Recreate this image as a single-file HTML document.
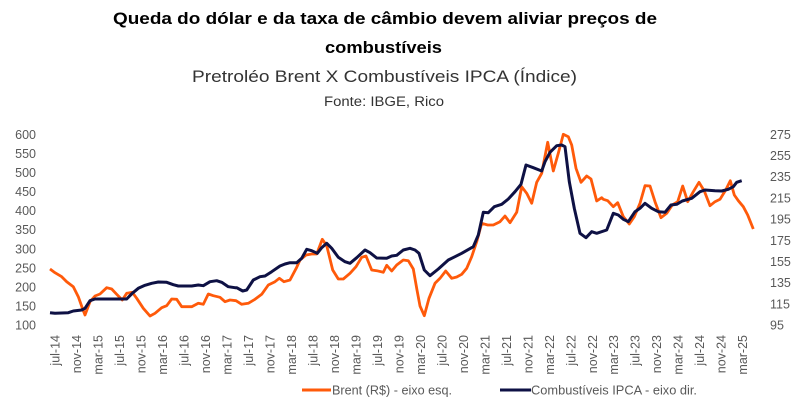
<!DOCTYPE html>
<html><head><meta charset="utf-8"><style>
html,body{margin:0;padding:0;background:#fff;}
svg{display:block;}
text{font-family:"Liberation Sans",sans-serif;}
</style></head><body>
<svg width="803" height="403" viewBox="0 0 803 403" xmlns="http://www.w3.org/2000/svg">
<rect width="803" height="403" fill="#fff"/>
<text x="113" y="24" font-size="16.5" font-weight="bold" fill="#000" textLength="544" lengthAdjust="spacingAndGlyphs">Queda do dólar e da taxa de câmbio devem aliviar preços de</text>
<text x="325" y="53" font-size="16.5" font-weight="bold" fill="#000" textLength="117" lengthAdjust="spacingAndGlyphs">combustíveis</text>
<text x="192" y="82" font-size="16.5" fill="#333" textLength="385" lengthAdjust="spacingAndGlyphs">Pretroléo Brent X Combustíveis IPCA (Índice)</text>
<text x="324" y="106" font-size="13.5" fill="#333" textLength="120" lengthAdjust="spacingAndGlyphs">Fonte: IBGE, Rico</text>

<g font-size="12.5" fill="#595959" text-anchor="end">
<text x="36" y="138.8">600</text>
<text x="36" y="157.9">550</text>
<text x="36" y="177.0">500</text>
<text x="36" y="196.0">450</text>
<text x="36" y="215.1">400</text>
<text x="36" y="234.2">350</text>
<text x="36" y="253.3">300</text>
<text x="36" y="272.4">250</text>
<text x="36" y="291.4">200</text>
<text x="36" y="310.5">150</text>
<text x="36" y="329.5">100</text>
</g>
<g font-size="12.5" fill="#595959" text-anchor="start">
<text x="770" y="138.8">275</text>
<text x="770" y="160.0">255</text>
<text x="770" y="181.2">235</text>
<text x="770" y="202.4">215</text>
<text x="770" y="223.6">195</text>
<text x="770" y="244.8">175</text>
<text x="770" y="266.0">155</text>
<text x="770" y="287.2">135</text>
<text x="770" y="308.3">115</text>
<text x="770" y="329.5">95</text>
</g>

<g font-size="12.5" fill="#595959" text-anchor="end">
<text transform="translate(59.5,335) rotate(-90)">jul-14</text>
<text transform="translate(81.0,335) rotate(-90)">nov-14</text>
<text transform="translate(102.5,335) rotate(-90)">mar-15</text>
<text transform="translate(124.0,335) rotate(-90)">jul-15</text>
<text transform="translate(145.5,335) rotate(-90)">nov-15</text>
<text transform="translate(166.9,335) rotate(-90)">mar-16</text>
<text transform="translate(188.4,335) rotate(-90)">jul-16</text>
<text transform="translate(209.9,335) rotate(-90)">nov-16</text>
<text transform="translate(231.4,335) rotate(-90)">mar-17</text>
<text transform="translate(252.9,335) rotate(-90)">jul-17</text>
<text transform="translate(274.4,335) rotate(-90)">nov-17</text>
<text transform="translate(295.9,335) rotate(-90)">mar-18</text>
<text transform="translate(317.4,335) rotate(-90)">jul-18</text>
<text transform="translate(338.9,335) rotate(-90)">nov-18</text>
<text transform="translate(360.4,335) rotate(-90)">mar-19</text>
<text transform="translate(381.9,335) rotate(-90)">jul-19</text>
<text transform="translate(403.3,335) rotate(-90)">nov-19</text>
<text transform="translate(424.8,335) rotate(-90)">mar-20</text>
<text transform="translate(446.3,335) rotate(-90)">jul-20</text>
<text transform="translate(467.8,335) rotate(-90)">nov-20</text>
<text transform="translate(489.3,335) rotate(-90)">mar-21</text>
<text transform="translate(510.8,335) rotate(-90)">jul-21</text>
<text transform="translate(532.3,335) rotate(-90)">nov-21</text>
<text transform="translate(553.8,335) rotate(-90)">mar-22</text>
<text transform="translate(575.3,335) rotate(-90)">jul-22</text>
<text transform="translate(596.8,335) rotate(-90)">nov-22</text>
<text transform="translate(618.2,335) rotate(-90)">mar-23</text>
<text transform="translate(639.7,335) rotate(-90)">jul-23</text>
<text transform="translate(661.2,335) rotate(-90)">nov-23</text>
<text transform="translate(682.7,335) rotate(-90)">mar-24</text>
<text transform="translate(704.2,335) rotate(-90)">jul-24</text>
<text transform="translate(725.7,335) rotate(-90)">nov-24</text>
<text transform="translate(747.2,335) rotate(-90)">mar-25</text>
</g>

<polyline fill="none" stroke="#FF5A0A" stroke-width="2.8" stroke-linejoin="round" stroke-linecap="butt" points="50,269 55,272.7 61.7,276.7 66.7,281.7 73.3,286.7 78.3,296.7 82.3,308 85,315 90,301.7 95,296 100,294 106.7,287.7 111.7,289 116.7,294.3 122.3,300 126.7,293.3 132.3,292.3 136.7,298.3 143.3,308.3 150,316 155,313.3 161.7,307.7 166.7,305.7 171.7,299 176.7,299.3 181.7,306.7 191.7,306.7 198.3,303.3 203.3,304.3 208.3,294 213.3,295.7 220,297.3 225,301.7 230,300 236,300.7 241.7,304.3 248.3,303.3 255,299.3 261.7,294.3 268.3,285 275,281.7 279.3,278.3 284,281.7 290,280 296.7,267.3 300,260 306,255 311.7,254 316.7,254 322.3,239.3 326.7,245.7 332.7,270 338.3,279 343.3,279 350,273.3 356,266.7 361.7,257.3 366,256 371.7,270 376.7,270.7 383.3,272.3 386.7,265.3 391.7,271 396.7,265 403.3,260 408.3,260.7 413.3,269 417,290 420,306 424.3,315.7 429,298.3 435,283.3 440,278.3 445.7,271 451.7,278.3 456.7,277 461.7,274.3 466.7,268.3 471.7,256.7 476.7,241.7 481.7,223.3 487.7,225 493.3,225 500,221.7 505,216 510,222.7 516.7,212.3 521.7,186.7 526.7,193.3 531.7,203.3 536.7,182.3 541.7,173.3 547.7,142.3 553.3,171 558.3,153.3 563.3,134.3 568.3,136.7 571.7,145 576,168.3 581,182.3 586.7,176 591,179 596.7,201 601.7,197.7 603.3,199.3 607.7,200.7 613.3,206.7 617.7,202.7 623.3,216.7 629.3,224 634.3,216.7 640,203.3 645,185.7 650,186 655,201.7 661,217.7 666.7,213.3 672.3,205 677.7,201.7 682.7,186 687.7,201.7 693.3,191.7 699,182.3 704.3,191 710,205.7 715,201.7 720,199.3 725.7,190 730.3,180.7 734.3,195 738.3,200.7 743.3,206.7 747.7,215 753.3,229"/>

<polyline fill="none" stroke="#0E1144" stroke-width="3" stroke-linejoin="round" stroke-linecap="butt" points="50,312.7 55,313.3 68.3,312.7 73.3,311 81.7,310 85,308.3 90,300.7 95,299 101.7,299 126.7,299 132.3,293.3 138.3,288.3 145,285.3 151.7,283.3 158.3,282 166.7,282.3 173.3,284.7 178.3,286 191.7,286 198.3,285 203.3,285.7 210,281.7 216.7,280.7 221.7,282.3 228.3,286.7 235,287.7 236.7,287.7 242.7,291 246.7,290 253.3,280 260,276.7 265,276 271.7,271.7 280,266 285,264 290,262.7 296.7,262.7 301.7,258.3 306.7,249.3 311.7,250.7 317.3,253.3 321.7,247.7 326.7,243.3 331.7,248.3 338.3,257.3 345,261.7 350,263.3 356.7,257.7 365,250 370,252.7 376.7,258 386.7,258.3 391.7,256 396.7,255.3 403.3,250 410,248.3 415,250 419,253.3 424.3,270 430,275.7 438.3,269 448.3,260 455,256.7 461.7,253.3 473.3,246.7 478.3,235 483.3,212.3 488.3,212.7 494.3,206.7 501.7,204.3 508.3,199 515,191.7 521,184.3 526,165 533.3,167.7 541.7,171 545,161.7 550,152.3 556.7,145.7 561.7,145 565,146.7 569.3,181.7 574.3,208.3 580,233.3 586,237.7 591.7,231.7 596.7,233.3 606.7,230 613.3,213.3 618.3,215 623.3,219.3 628.3,221.7 635,211.7 640,208.3 645,203.3 651.7,208.3 658.3,211.7 665,212.3 671,205 676.7,204.3 682.3,201 691.7,198.3 700,191.7 705,190 715,190.7 721.7,191 728.3,189.3 733.3,186.7 736.7,182.3 741.7,180.7"/>

<line x1="302" y1="390" x2="331" y2="390" stroke="#FF5A0A" stroke-width="3"/>
<text x="332" y="394.5" font-size="12.5" fill="#595959" textLength="120" lengthAdjust="spacingAndGlyphs">Brent (R$) - eixo esq.</text>
<line x1="500" y1="390" x2="531" y2="390" stroke="#0E1144" stroke-width="3"/>
<text x="531" y="394.5" font-size="12.5" fill="#595959" textLength="166" lengthAdjust="spacingAndGlyphs">Combustíveis IPCA - eixo dir.</text>
</svg>
</body></html>
